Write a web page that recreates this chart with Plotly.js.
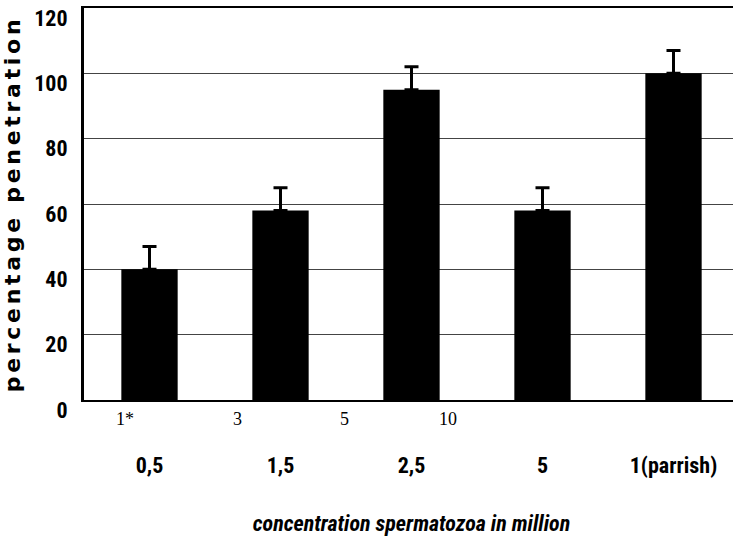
<!DOCTYPE html>
<html>
<head>
<meta charset="utf-8">
<script src="https://cdn.plot.ly/plotly-3.0.1.min.js"></script>
<style>
  html, body { margin: 0; padding: 0; background: #fff; overflow: hidden; }
  #chart { width: 745px; height: 540px; }
</style>
</head>
<body>
<div id="chart"></div>
<script>
// Sperm concentration groups (million) and the penetration they reached
const concentrations = ['0,5', '1,5', '2,5', '5', '1(parrish)'];
const penetration = [40, 58, 95, 58, 100];
const penetrationErr = [7, 7, 7, 7, 7];
// Sample counts printed under the axis
const countLabels = ['1*', '3', '5', '10'];
const countLabelPos = [0.063, 0.234, 0.397, 0.556];

const yTicks = [0, 20, 40, 60, 80, 100, 120];

const narrowBold = '"Roboto Condensed", "Open Sans Condensed", sans-serif';

const trace = {
  type: 'bar',
  x: concentrations,
  y: penetration,
  width: 0.43,
  marker: { color: '#000', line: { width: 0 } },
  error_y: {
    type: 'data',
    array: penetrationErr,
    symmetric: false,
    arrayminus: penetrationErr.map(() => 0),
    color: '#000',
    thickness: 3,
    width: 7
  },
  hoverinfo: 'x+y'
};

const annotations = countLabels.map((t, i) => ({
  text: t,
  xref: 'paper', yref: 'paper',
  x: countLabelPos[i], y: 0,
  yshift: -19,
  xanchor: 'center', yanchor: 'middle',
  showarrow: false,
  font: { family: '"Liberation Serif", "DejaVu Serif", serif', size: 18, color: '#000' }
}));

const layout = {
  width: 745,
  height: 540,
  margin: { l: 84, r: 6, t: 8, b: 140 },
  paper_bgcolor: '#fff',
  plot_bgcolor: '#fff',
  showlegend: false,
  bargap: 0.57,
  xaxis: {
    type: 'category',
    showline: true,
    linecolor: '#000',
    linewidth: 2,
    mirror: true,
    ticks: '',
    showgrid: false,
    ticklabelstandoff: 45,
    tickfont: { family: narrowBold, size: 22, color: '#000', weight: 'bold' },
    title: {
      text: '<i>concentration spermatozoa in million</i>',
      font: { family: narrowBold, size: 22, color: '#000', weight: 'bold' },
      standoff: 38
    }
  },
  yaxis: {
    range: [0, 120],
    tickvals: yTicks,
    ticktext: yTicks.map(String),
    showline: true,
    linecolor: '#000',
    linewidth: 3,
    ticks: 'outside',
    ticklen: 5,
    tickwidth: 1,
    tickcolor: '#000',
    ticklabelposition: 'outside bottom',
    ticklabelstandoff: 9,
    showgrid: true,
    gridcolor: '#444',
    gridwidth: 1,
    zeroline: false,
    tickfont: { family: narrowBold, size: 22, color: '#000', weight: 'bold' },
    title: {
      text: 'percentage penetration',
      font: { family: '"DejaVu Sans", sans-serif', size: 22, color: '#000', weight: 'bold' },
      standoff: 10
    }
  },
  annotations: annotations
};

Plotly.newPlot('chart', [trace], layout, { displayModeBar: false, staticPlot: true })
  .then(() => {
    // widen the tracking of the vertical axis title
    document.querySelectorAll('#chart .ytitle').forEach(el => {
      el.style.letterSpacing = '3.7px';
    });
    // tuck the value labels a little closer to their grid lines
    document.querySelectorAll('#chart .yaxislayer-above .ytick').forEach(el => {
      el.style.transform = 'translateY(-6px)';
    });
  });
</script>
</body>
</html>
